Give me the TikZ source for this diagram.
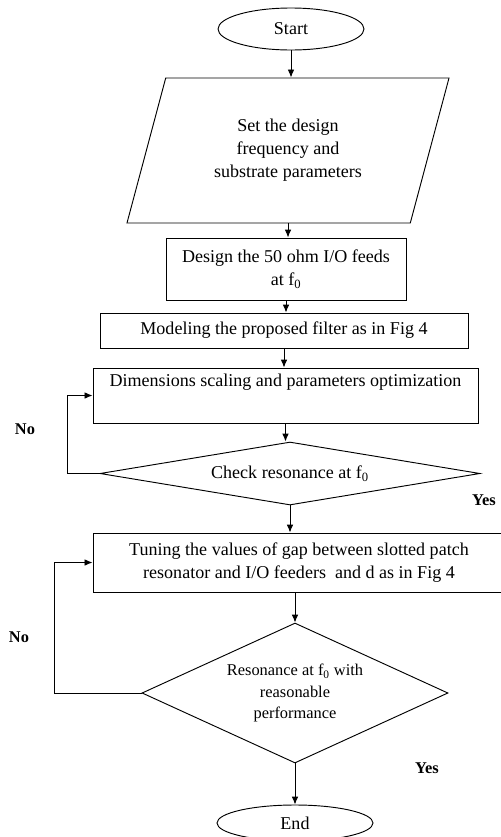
\documentclass[tikz,border=0pt]{standalone}
\usepackage{fontspec}
\setmainfont{Liberation Serif}
\usetikzlibrary{arrows.meta, positioning, shapes.geometric}

\begin{document}
\begin{tikzpicture}[x=0.03cm, y=-0.03cm,
    box/.style={draw, thick, fill=white, align=center, inner sep=2pt,
                font=\fontsize{15.4}{19.5}\selectfont},
    io/.style={draw, thick, trapezium, trapezium left angle=61, trapezium right angle=119,
               trapezium stretches body, align=center, font=\fontsize{15.4}{19.5}\selectfont},
    term/.style={draw, thick, ellipse, inner sep=0pt, font=\fontsize{15.4}{18}\selectfont},
    cond/.style={draw, thick, diamond, aspect=6, inner sep=1pt, align=center,
                 font=\fontsize{15.4}{18}\selectfont},
    fl/.style={-{Latex[length=2.4mm, width=2mm]}, thick},
    lbl/.style={font=\fontsize{14}{16}\selectfont\bfseries, inner sep=0pt}
]
    \useasboundingbox (0,0) rectangle (500,837);

    \node[term, minimum width=4.38cm, minimum height=1.26cm] (start) at (291,29) {Start};
    \node[io, minimum width=9.66cm, minimum height=4.35cm] (setp) at (288,150.5)
        {Set the design\\frequency and\\substrate parameters};
    \node[box, minimum width=7.2cm, minimum height=1.86cm] (feed) at (286,269)
        {Design the 50 ohm I/O feeds\\at f\textsubscript{0}};
    \node[box, minimum width=11.04cm, minimum height=1.05cm] (model) at (284,330.5)
        {Modeling the proposed filter as in Fig 4};
    \node[box, minimum width=11.55cm, minimum height=1.65cm] (scale) at (285.5,395.5)
        {Dimensions scaling and parameters optimization\\ \strut};
    \node[cond, minimum width=11.4cm, minimum height=1.89cm] (check) at (290,473.5)
        {Check resonance at f\textsubscript{0}};
    \node[box, minimum width=12.36cm, minimum height=1.77cm] (tune) at (299,562.5)
        {Tuning the values of gap between slotted patch\\resonator and I/O feeders \ and d as in Fig 4};
    \node[cond, aspect=2.2, minimum width=9.18cm, minimum height=4.2cm,
          font=\fontsize{14}{18}\selectfont] (reso) at (295,693)
        {Resonance at f\textsubscript{0} with\\reasonable\\performance};
    \node[term, minimum width=4.68cm, minimum height=1.08cm] (end) at (295,823) {End};

    \node[lbl] (no1) at (25,429) {No};
    \node[lbl] (yes1) at (484,500) {Yes};
    \node[lbl] (no2) at (19,637) {No};
    \node[lbl] (yes2) at (427,768) {Yes};

    \draw[fl] (start.south) -- (start.south |- setp.north);
    \draw[fl] (setp.south) -- (setp.south |- feed.north);
    \draw[fl] (feed.south) -- (feed.south |- model.north);
    \draw[fl] (model.south) -- (model.south |- scale.north);
    \draw[fl] (scale.south) -- (scale.south |- check.north);
    \draw[fl] (check.south) -- (check.south |- tune.north);
    \draw[fl] (reso.north |- tune.south) -- (reso.north);
    \draw[fl] (reso.south) -- (end.north);
    \draw[fl] (check.west) -- ++(-32,0) |- (scale.west);
    \draw[fl] (reso.west) -- ++(-87,0) |- (tune.west);
\end{tikzpicture}
\end{document}
